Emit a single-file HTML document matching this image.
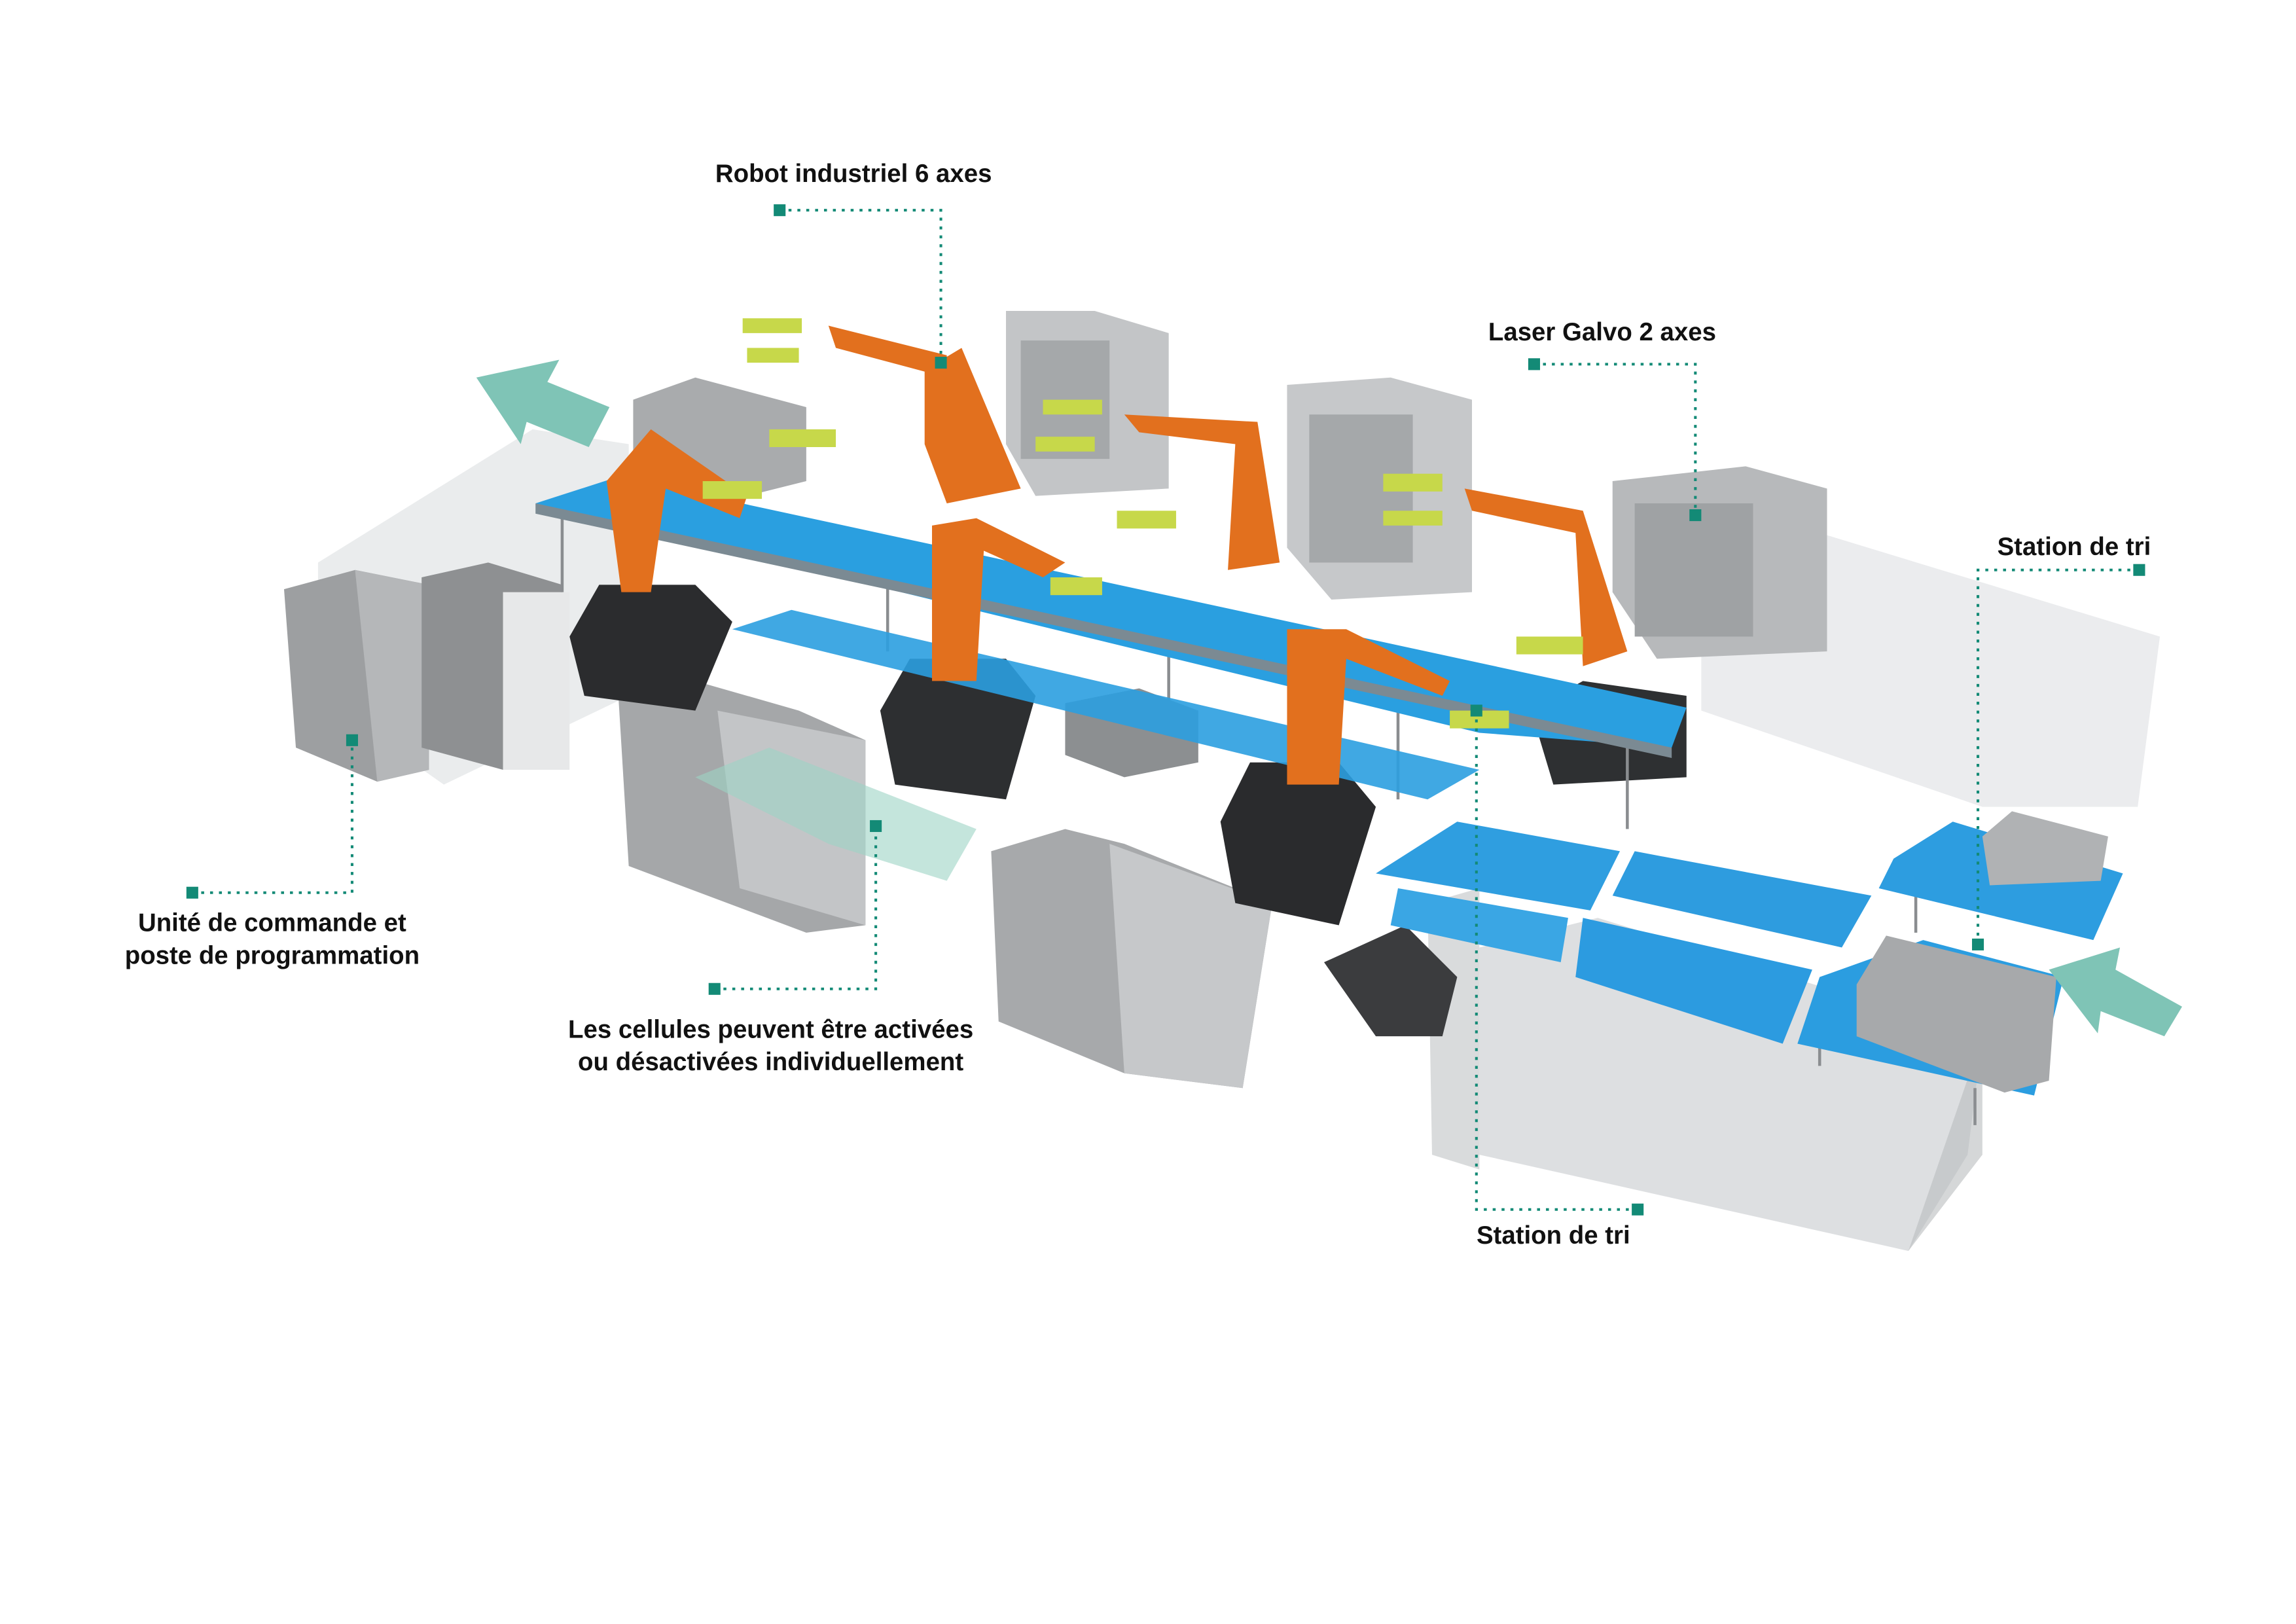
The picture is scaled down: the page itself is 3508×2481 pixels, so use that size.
<!DOCTYPE html>
<html><head><meta charset="utf-8"><style>
html,body{margin:0;padding:0;background:#fff}
svg{display:block}
text{font-family:"Liberation Sans",sans-serif;font-weight:bold;font-size:17px;fill:#111}
</style></head><body>
<svg width="3508" height="2481" viewBox="0 0 1552 1097" preserveAspectRatio="none" xmlns="http://www.w3.org/2000/svg">
<rect width="1552" height="1097" fill="#fff"/>
<!-- glass enclosures -->
<polygon points="215,380 360,290 425,300 425,470 300,530 215,470" fill="#d8dcdf" opacity="0.55"/>
<polygon points="1150,380 1230,360 1460,430 1445,545 1340,545 1150,480" fill="#dde0e2" opacity="0.6"/>
<polygon points="1000,640 1080,620 1340,700 1330,780 1290,845 1000,780" fill="#cfd2d4" opacity="0.7"/>
<polygon points="1290,845 1340,700 1340,780" fill="#b9bcbe" opacity="0.6"/>
<polygon points="965,610 1000,600 1000,790 968,780" fill="#bfc3c5" opacity="0.6"/>
<!-- back machines -->
<polygon points="428,270 470,255 545,275 545,325 505,335 428,310" fill="#a9abad"/>
<polygon points="680,210 740,210 790,225 790,330 700,335 680,300" fill="#c3c5c7"/>
<polygon points="870,260 940,255 995,270 995,400 900,405 870,370" fill="#c6c8ca"/>
<polygon points="1090,325 1180,315 1235,330 1235,440 1120,445 1090,400" fill="#b7b9bb"/>
<rect x="1105" y="340" width="80" height="90" fill="#9fa2a4"/>
<rect x="885" y="280" width="70" height="100" fill="#a5a8aa"/>
<rect x="690" y="230" width="60" height="80" fill="#a5a8aa"/>
<!-- left cabinets -->
<polygon points="192,398 240,385 290,395 290,520 255,528 200,505" fill="#9d9fa1"/>
<polygon points="240,385 290,395 290,520 255,528" fill="#b5b7b9"/>
<polygon points="285,390 330,380 380,395 380,480 340,520 285,505" fill="#8e9092"/>
<rect x="340" y="400" width="45" height="120" fill="#e7e8e9"/>
<polygon points="418,470 470,460 540,480 585,500 585,625 545,630 425,585" fill="#a5a7a9"/>
<polygon points="485,480 585,500 585,625 500,600" fill="#c3c5c7"/>
<polygon points="670,575 720,560 760,570 860,610 840,735 760,725 675,690" fill="#a7a9ab"/>
<polygon points="750,570 860,610 840,735 760,725" fill="#c6c8ca"/>
<polygon points="720,475 770,465 810,480 810,515 760,525 720,510" fill="#8c8f91"/>
<!-- black robot bases -->
<polygon points="385,430 405,395 470,395 495,420 470,480 395,470" fill="#2b2c2e"/>
<polygon points="595,480 615,445 680,445 700,470 680,540 605,530" fill="#2d2f31"/>
<polygon points="825,555 845,515 905,515 930,545 905,625 835,610" fill="#2a2b2d"/>
<polygon points="895,650 950,625 985,660 975,700 930,700" fill="#3b3c3e"/>
<polygon points="1035,480 1070,460 1140,470 1140,525 1050,530" fill="#2e3032"/>
<!-- legs -->
<g stroke="#8a8d90" stroke-width="2">
<line x1="380" y1="345" x2="380" y2="400"/><line x1="600" y1="392" x2="600" y2="440"/>
<line x1="790" y1="432" x2="790" y2="480"/><line x1="945" y1="465" x2="945" y2="540"/>
<line x1="1100" y1="500" x2="1100" y2="560"/><line x1="1230" y1="700" x2="1230" y2="720"/>
<line x1="1335" y1="735" x2="1335" y2="760"/><line x1="1295" y1="600" x2="1295" y2="630"/>
</g>
<!-- conveyors -->
<polygon points="362,340 418,322 1140,478 1130,505 1000,495" fill="#2a9fe0"/>
<polygon points="362,340 1130,505 1130,512 362,347" fill="#7b8a93"/>
<polygon points="495,425 535,412 1000,520 965,540" fill="#2b9ee0" opacity="0.9"/>
<polygon points="930,590 985,555 1095,575 1075,615" fill="#2f9ee0"/>
<polygon points="1105,575 1265,605 1245,640 1090,605" fill="#2e9cdf"/>
<polygon points="1280,580 1320,555 1435,590 1415,635 1270,600" fill="#2d9de0"/>
<polygon points="1070,620 1225,655 1205,705 1065,660" fill="#2c9be0"/>
<polygon points="1230,660 1300,635 1395,660 1375,740 1215,705" fill="#2b9de0"/>
<polygon points="945,600 1060,620 1055,650 940,625" fill="#3aa6e4"/>
<!-- boxes on conveyor -->
<polygon points="1340,565 1360,548 1425,565 1420,595 1345,598" fill="#b0b2b4"/>
<polygon points="1255,665 1275,632 1390,660 1385,730 1355,738 1255,700" fill="#a7a9ab"/>
<!-- robots orange -->
<g fill="#e2701e">
<polygon points="410,325 440,290 505,335 500,350 450,330 440,400 420,400"/>
<polygon points="625,250 650,235 690,330 640,340 625,300"/>
<polygon points="560,220 640,240 640,255 565,235"/>
<polygon points="630,355 660,350 720,380 705,390 665,372 660,460 630,460"/>
<polygon points="760,280 850,285 865,380 830,385 835,300 770,292"/>
<polygon points="870,425 910,425 980,460 975,470 910,445 905,530 870,530"/>
<polygon points="990,330 1070,345 1100,440 1070,450 1065,360 995,345"/>
</g>
<!-- green grippers -->
<g fill="#c7d84a">
<rect x="502" y="215" width="40" height="10"/><rect x="505" y="235" width="35" height="10"/>
<rect x="520" y="290" width="45" height="12"/><rect x="475" y="325" width="40" height="12"/>
<rect x="705" y="270" width="40" height="10"/><rect x="700" y="295" width="40" height="10"/>
<rect x="755" y="345" width="40" height="12"/><rect x="710" y="390" width="35" height="12"/>
<rect x="935" y="320" width="40" height="12"/><rect x="935" y="345" width="40" height="10"/>
<rect x="1025" y="430" width="45" height="12"/><rect x="980" y="480" width="40" height="12"/>
</g>
<!-- teal arrows -->
<polygon points="322,255 378,243 370,258 412,275 398,302 356,285 352,300" fill="#7fc4b6"/>
<polygon points="1475,680 1463,700 1420,683 1418,698 1385,655 1433,640 1430,655" fill="#7fc4b6"/>
<polygon points="470,525 520,505 660,560 640,595 560,570" fill="#9cd3c4" opacity="0.6"/>
<!-- leader lines -->
<g stroke="#138a76" stroke-width="1.8" stroke-dasharray="2,4" fill="none">
<polyline points="527,142 636,142 636,245"/>
<polyline points="1037,246 1146,246 1146,348"/>
<polyline points="1446,385 1337,385 1337,638"/>
<polyline points="130,603 238,603 238,500"/>
<polyline points="483,668 592,668 592,558"/>
<polyline points="1107,817 998,817 998,480"/>
</g>
<g fill="#138a76">
<rect x="523" y="138" width="8" height="8"/><rect x="632" y="241" width="8" height="8"/>
<rect x="1033" y="242" width="8" height="8"/><rect x="1142" y="344" width="8" height="8"/>
<rect x="1442" y="381" width="8" height="8"/><rect x="1333" y="634" width="8" height="8"/>
<rect x="126" y="599" width="8" height="8"/><rect x="234" y="496" width="8" height="8"/>
<rect x="479" y="664" width="8" height="8"/><rect x="588" y="554" width="8" height="8"/>
<rect x="1103" y="813" width="8" height="8"/><rect x="994" y="476" width="8" height="8"/>
</g>
<text x="577" y="123" text-anchor="middle">Robot industriel 6 axes</text>
<text x="1083" y="230" text-anchor="middle">Laser Galvo 2 axes</text>
<text x="1402" y="375" text-anchor="middle">Station de tri</text>
<text x="184" y="629" text-anchor="middle">Unité de commande et</text>
<text x="184" y="651" text-anchor="middle">poste de programmation</text>
<text x="521" y="701" text-anchor="middle">Les cellules peuvent être activées</text>
<text x="521" y="723" text-anchor="middle">ou désactivées individuellement</text>
<text x="1050" y="840" text-anchor="middle">Station de tri</text>
</svg>
</body></html>
